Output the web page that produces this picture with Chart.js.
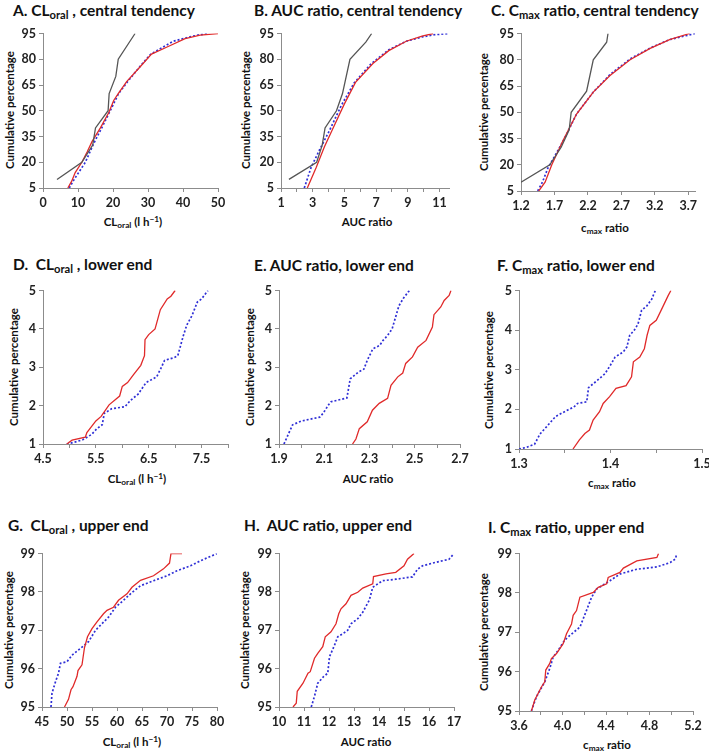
<!DOCTYPE html>
<html><head><meta charset="utf-8">
<script src="https://cdn.jsdelivr.net/npm/chart.js@4.4.0/dist/chart.umd.min.js"></script>
<style>
body{margin:0;width:709px;height:751px;background:#fff;position:relative;overflow:hidden;font-family:Lato,'Open Sans',sans-serif;color:#111}
.t{position:absolute;font-weight:bold;font-size:15.5px;white-space:nowrap;line-height:15px;transform:translateY(-50%)}
.xt{position:absolute;font-weight:bold;font-size:11.5px;white-space:nowrap;line-height:11px;transform:translate(-50%,-50%)}
.yt{position:absolute;font-weight:bold;font-size:11.5px;white-space:nowrap;line-height:11px;transform:translate(-50%,-50%) rotate(-90deg)}
canvas{position:absolute}
sub{font-size:0.72em;vertical-align:-0.3em;line-height:0}
sup{font-size:0.72em;vertical-align:0.45em;line-height:0}
</style></head><body>
<div class="t" style="left:13px;top:10px">A. CL<sub>oral</sub> , central tendency</div>
<div class="t" style="left:254px;top:10px">B. AUC ratio, central tendency</div>
<div class="t" style="left:491px;top:10px">C. C<sub>max</sub> ratio, central tendency</div>
<div class="t" style="left:13px;top:264px">D.&nbsp; CL<sub>oral</sub> , lower end</div>
<div class="t" style="left:254px;top:265px">E. AUC ratio, lower end</div>
<div class="t" style="left:497px;top:265px">F. C<sub>max</sub> ratio, lower end</div>
<div class="t" style="left:8px;top:525px">G.&nbsp; CL<sub>oral</sub> , upper end</div>
<div class="t" style="left:244px;top:525px">H.&nbsp; AUC ratio, upper end</div>
<div class="t" style="left:488px;top:527px">I. C<sub>max</sub> ratio, upper end</div>

<div class="yt" style="left:9px;top:110px">Cumulative percentage</div>
<div class="yt" style="left:245px;top:110px">Cumulative percentage</div>
<div class="yt" style="left:483px;top:112px">Cumulative percentage</div>
<div class="yt" style="left:13px;top:367px">Cumulative percentage</div>
<div class="yt" style="left:249px;top:367px">Cumulative percentage</div>
<div class="yt" style="left:488px;top:370px">Cumulative percentage</div>
<div class="yt" style="left:8px;top:630px">Cumulative percentage</div>
<div class="yt" style="left:244px;top:630px">Cumulative percentage</div>
<div class="yt" style="left:483px;top:632px">Cumulative percentage</div>

<div class="xt" style="left:133px;top:221px">CL<sub>oral</sub> (l h<sup>−1</sup>)</div>
<div class="xt" style="left:367px;top:221px">AUC ratio</div>
<div class="xt" style="left:605px;top:227px">c<sub>max</sub> ratio</div>
<div class="xt" style="left:137px;top:478px">CL<sub>oral</sub> (l h<sup>−1</sup>)</div>
<div class="xt" style="left:368px;top:478px">AUC ratio</div>
<div class="xt" style="left:612px;top:482px">c<sub>max</sub> ratio</div>
<div class="xt" style="left:132px;top:741px">CL<sub>oral</sub> (l h<sup>−1</sup>)</div>
<div class="xt" style="left:366px;top:741px">AUC ratio</div>
<div class="xt" style="left:607px;top:744px">c<sub>max</sub> ratio</div>

<script>
// ---------- data: [x, cumulative %] ----------
const grayA = [[4,10],[11.1,20],[14.2,30],[15,40],[18.6,50],[18.9,60],[20.8,70],[21.5,80],[26.3,95]];
const redA  = [[7.1,5],[8.2,9],[9.2,14],[11.1,20],[12.6,26],[14,32],[16.4,40],[18.8,49],[20.2,56],[21.5,60],[23.9,67],[27.7,75.5],[31,83],[35.3,87],[40.6,92],[44.9,94],[50,95]];
const blueA = [[7.5,5],[8.6,9],[9.7,12.5],[12.1,20],[14.5,31],[16.9,40.5],[19.2,50],[21.6,60],[24.2,67],[27.8,76],[30.8,83],[34,86.8],[37.2,90.5],[41,92.5],[44,94],[47.2,95]];

const grayB = [[1.5,10],[3.25,20],[3.6,30],[3.78,40],[4.5,50],[4.88,60],[5.35,80],[6.35,90],[6.72,95]];
const redB  = [[2.66,5],[3.22,17],[3.74,29],[4.37,41.5],[5.0,54],[5.7,66.5],[6.8,77.5],[7.8,85],[8.9,90.5],[9.9,93.5],[10.6,95]];
const blueB = [[2.47,5],[2.9,17],[3.42,27],[4.06,38.5],[4.8,53],[5.6,66],[6.7,77.5],[7.8,85.5],[8.9,90.5],[9.9,93],[10.7,94.3],[11.6,95]];

const grayC = [[1.2,10],[1.63,20],[1.8,30],[1.92,40],[1.95,50],[2.18,62],[2.28,80],[2.48,90],[2.5,95]];
const redC  = [[1.465,5],[1.56,10],[1.66,20],[1.83,34],[2.03,49],[2.28,61.5],[2.53,71],[2.83,80],[3.13,86.5],[3.42,91.5],[3.72,95]];
const blueC = [[1.45,5],[1.52,10],[1.6,18],[1.72,26],[1.85,35],[2.03,49],[2.28,61.5],[2.53,71.5],[2.83,80.5],[3.13,86.7],[3.42,91.5],[3.8,95]];

const redD  = [[4.95,1],[5.05,1.1],[5.3,1.18],[5.33,1.3],[5.5,1.6],[5.6,1.72],[5.75,2.02],[5.95,2.25],[6.0,2.5],[6.1,2.6],[6.22,2.82],[6.35,3.05],[6.42,3.3],[6.43,3.72],[6.5,3.85],[6.62,4.0],[6.72,4.5],[6.85,4.78],[6.92,4.85],[7.0,5]];
const blueD = [[4.95,1],[5.1,1.05],[5.25,1.11],[5.42,1.25],[5.52,1.4],[5.62,1.5],[5.66,1.8],[5.8,1.92],[6.05,1.97],[6.15,2.13],[6.3,2.3],[6.45,2.6],[6.65,2.75],[6.73,2.97],[6.8,3.18],[6.98,3.25],[7.05,3.3],[7.15,3.8],[7.22,4.1],[7.32,4.35],[7.42,4.7],[7.5,4.78],[7.62,5]];

const redE  = [[2.225,1],[2.24,1.13],[2.255,1.4],[2.29,1.58],[2.313,1.88],[2.343,2.06],[2.38,2.19],[2.395,2.53],[2.425,2.75],[2.447,2.85],[2.46,3.1],[2.49,3.27],[2.513,3.52],[2.55,3.7],[2.578,4.05],[2.585,4.37],[2.615,4.57],[2.63,4.74],[2.652,4.87],[2.66,5]];
const blueE = [[1.922,1],[1.937,1.2],[1.96,1.5],[2.0,1.6],[2.08,1.7],[2.095,1.8],[2.12,2.03],[2.13,2.1],[2.2,2.2],[2.215,2.7],[2.25,2.87],[2.275,2.95],[2.29,3.18],[2.315,3.48],[2.345,3.57],[2.36,3.7],[2.38,3.83],[2.4,4.0],[2.43,4.6],[2.45,4.8],[2.476,5]];

const redF  = [[1.359,1],[1.366,1.23],[1.372,1.39],[1.377,1.48],[1.381,1.73],[1.388,1.94],[1.392,2.15],[1.399,2.32],[1.406,2.53],[1.417,2.6],[1.423,2.82],[1.425,3.2],[1.432,3.32],[1.437,3.53],[1.44,3.87],[1.443,4.12],[1.45,4.25],[1.457,4.58],[1.463,4.87],[1.466,5]];
const blueF = [[1.3,1],[1.308,1.04],[1.317,1.12],[1.323,1.38],[1.33,1.56],[1.34,1.82],[1.352,1.97],[1.36,2.06],[1.364,2.15],[1.374,2.19],[1.376,2.55],[1.385,2.72],[1.394,2.9],[1.4,3.12],[1.405,3.32],[1.414,3.45],[1.418,3.58],[1.421,3.87],[1.426,4.0],[1.43,4.15],[1.434,4.5],[1.44,4.62],[1.445,4.78],[1.449,5]];

const redG  = [[49.5,95],[50.3,95.2],[50.8,95.45],[51.2,95.53],[52,95.8],[52.2,95.95],[53,96.1],[53.5,96.55],[54.1,96.83],[55,97.04],[56,97.22],[57.3,97.43],[58,97.52],[59.3,97.6],[60.3,97.78],[62,97.95],[63,98.12],[64.7,98.3],[67.3,98.42],[69.3,98.6],[70.5,98.75],[70.8,99],[73,99]];
const blueG = [[46.8,95],[47,95.36],[47.7,95.66],[48.3,95.88],[48.7,96.14],[50,96.18],[51,96.35],[52.7,96.53],[54.3,96.7],[55.7,97],[57,97.17],[58.3,97.34],[59.7,97.6],[61.3,97.78],[62.7,97.95],[64.7,98.16],[67.3,98.29],[70,98.42],[72,98.55],[74.7,98.68],[76.7,98.81],[80,99]];

const redH  = [[10.56,95],[10.69,95.1],[10.73,95.41],[10.96,95.62],[11.16,95.88],[11.25,95.92],[11.42,96.27],[11.55,96.4],[11.75,96.57],[11.85,96.83],[12.08,96.96],[12.28,97.17],[12.39,97.43],[12.48,97.56],[12.68,97.69],[12.88,97.91],[13.15,97.99],[13.35,98.1],[13.75,98.21],[13.78,98.4],[14.28,98.47],[14.67,98.51],[15.0,98.68],[15.14,98.85],[15.4,99]];
const blueH = [[11.29,95],[11.42,95.28],[11.55,95.62],[11.78,95.79],[11.95,95.88],[12.02,96.31],[12.22,96.61],[12.35,96.83],[12.55,96.91],[12.75,97],[12.88,97.17],[13.15,97.3],[13.35,97.47],[13.61,97.78],[13.75,98.12],[14.14,98.29],[14.67,98.33],[15.34,98.39],[15.54,98.59],[15.74,98.68],[16.27,98.77],[16.8,98.85],[17,99]];

const redI  = [[3.714,95],[3.745,95.28],[3.806,95.61],[3.837,95.74],[3.846,96.04],[3.883,96.21],[3.898,96.33],[3.945,96.46],[4.006,96.71],[4.037,96.96],[4.083,97.21],[4.098,97.43],[4.129,97.55],[4.16,97.89],[4.283,98.01],[4.329,98.14],[4.406,98.23],[4.42,98.39],[4.528,98.52],[4.56,98.63],[4.683,98.81],[4.868,98.9],[4.883,99]];
const blueI = [[3.714,95],[3.76,95.36],[3.837,95.74],[3.883,96.08],[3.914,96.37],[3.96,96.54],[4.02,96.8],[4.068,96.92],[4.16,97.13],[4.22,97.55],[4.268,97.89],[4.314,98.1],[4.437,98.31],[4.529,98.48],[4.683,98.6],[4.868,98.66],[4.99,98.77],[5.037,98.86],[5.052,99]];

// ---------- tick labels ----------
const yTicksCentral = ['5','20','35','50','65','80','95'];
const yTicksLower   = ['1','2','3','4','5'];
const yTicksUpper   = ['95','96','97','98','99'];
const xTicksA = ['0','10','20','30','40','50'];
const xTicksB = ['1','3','5','7','9','11'];
const xMinorB = [2,4,6,8,10];
const xTicksC = ['1.2','1.7','2.2','2.7','3.2','3.7'];
const xTicksD = ['4.5','5.5','6.5','7.5'];
const xMinorD = [5,6,7,8];
const xTicksE = ['1.9','2.1','2.3','2.5','2.7'];
const xMinorE = [2.0,2.2,2.4,2.6];
const xTicksF = ['1.3','1.4','1.5'];
const xMinorF = [1.35,1.45];
const xTicksG = ['45','50','55','60','65','70','75','80'];
const xTicksH = ['10','11','12','13','14','15','16','17'];
const xTicksI = ['3.6','4.0','4.4','4.8','5.2'];
const xMinorI = [3.8,4.2,4.6,5.0];

const RED = '#e02a2a', BLUE = '#2f2fd6', GRAY = '#555555', AXIS = '#8c8c8c';

function axis(dir, min, max, labels, minor) {
  const labelVals = labels.map(Number);
  const all = labelVals.concat(minor || []).sort((a, b) => a - b);
  return {
    type: 'linear', min: min, max: max,
    afterBuildTicks: s => { s.ticks = all.map(v => ({ value: v })); },
    afterFit: s => { if (dir === 'x') s.height = 25; else s.width = 40; },
    ticks: {
      autoSkip: false, maxRotation: 0, padding: 3,
      font: { family: 'Lato', weight: 'bold', size: 12.5 }, color: '#222',
      callback: v => { const i = labelVals.findIndex(l => Math.abs(l - v) < 1e-9); return i >= 0 ? labels[i] : ''; }
    },
    grid: { drawOnChartArea: false, drawTicks: true, tickLength: 4, color: AXIS },
    border: { display: true, color: AXIS, width: 1 }
  };
}

function panel(box, xAxis, yAxis, gray, red, blue) {
  const W = 40 + (box.r - box.l) + 12, H = 10 + (box.b - box.t) + 25;
  const c = document.createElement('canvas');
  c.width = W; c.height = H;
  c.style.left = (box.l - 40) + 'px'; c.style.top = (box.t - 10) + 'px';
  c.style.width = W + 'px'; c.style.height = H + 'px';
  document.body.appendChild(c);
  const ds = [];
  if (gray) ds.push({ data: gray, borderColor: GRAY, borderWidth: 1.3 });
  ds.push({ data: red, borderColor: RED, borderWidth: 1.3 });
  ds.push({ data: blue, borderColor: BLUE, borderWidth: 1.7, borderDash: [2, 2] });
  ds.forEach(d => { d.showLine = true; d.pointRadius = 0; d.fill = false; d.tension = 0; });
  new Chart(c, {
    type: 'scatter',
    data: { datasets: ds },
    options: {
      responsive: false, animation: false, devicePixelRatio: 1,
      plugins: { legend: { display: false }, tooltip: { enabled: false } },
      layout: { padding: { left: 0, right: 12, top: 10, bottom: 0 } },
      scales: { x: xAxis, y: yAxis }
    }
  });
}

panel({l:43,r:218,t:33,b:188}, axis('x',0,50,xTicksA), axis('y',5,95,yTicksCentral), grayA, redA, blueA);
panel({l:281,r:449,t:33,b:188}, axis('x',1,11.6,xTicksB,xMinorB), axis('y',5,95,yTicksCentral), grayB, redB, blueB);
panel({l:521,r:695,t:33,b:191}, axis('x',1.2,3.8,xTicksC), axis('y',5,95,yTicksCentral), grayC, redC, blueC);
panel({l:43,r:228,t:290,b:444}, axis('x',4.5,8,xTicksD,xMinorD), axis('y',1,5,yTicksLower), null, redD, blueD);
panel({l:279,r:460,t:290,b:444}, axis('x',1.9,2.7,xTicksE,xMinorE), axis('y',1,5,yTicksLower), null, redE, blueE);
panel({l:519,r:702,t:290,b:449}, axis('x',1.3,1.5,xTicksF,xMinorF), axis('y',1,5,yTicksLower), null, redF, blueF);
panel({l:42,r:217,t:553,b:707}, axis('x',45,80,xTicksG), axis('y',95,99,yTicksUpper), null, redG, blueG);
panel({l:279,r:454,t:553,b:707}, axis('x',10,17,xTicksH), axis('y',95,99,yTicksUpper), null, redH, blueH);
panel({l:519,r:693,t:553,b:711}, axis('x',3.6,5.2,xTicksI,xMinorI), axis('y',95,99,yTicksUpper), null, redI, blueI);
</script>
</body></html>
